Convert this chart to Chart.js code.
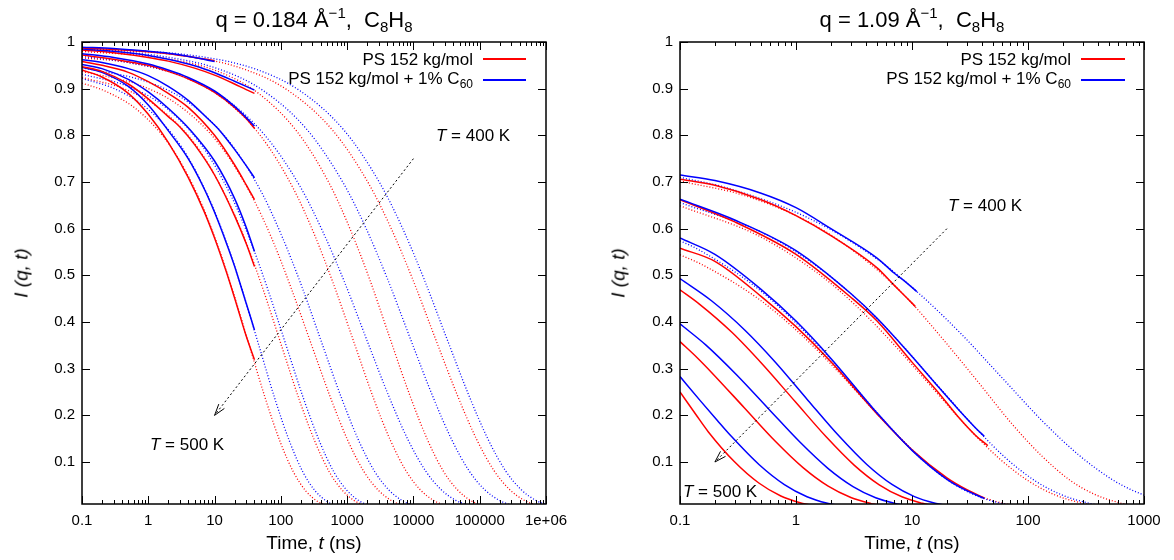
<!DOCTYPE html>
<html><head><meta charset="utf-8">
<script src="https://cdn.jsdelivr.net/npm/chart.js@4.4.1/dist/chart.umd.min.js"></script>
<style>
html,body{margin:0;padding:0;background:#fff;}
body{width:1174px;height:560px;position:relative;overflow:hidden;font-family:"Liberation Sans",Arial,Helvetica,sans-serif;color:#000;}
canvas{position:absolute;top:0;}
#c1{left:0;} #c2{left:587px;}
.t{position:absolute;white-space:nowrap;line-height:1;}
.title{font-size:22px;transform:translateX(-50%);}
.title .sup{font-size:15px;position:relative;top:-9px;}
.title .sub{font-size:15px;position:relative;top:5px;}
.leg{font-size:17px;text-align:right;}
.leg .sub{font-size:12px;position:relative;top:4px;}
.ann{font-size:17px;}
.xt{font-size:19px;transform:translateX(-50%);}
.yt{font-size:19px;font-style:italic;transform:translate(-50%,-50%) rotate(-90deg);}
.ls{position:absolute;height:2px;}
</style></head><body>
<canvas id="c1" width="587" height="560"></canvas>
<canvas id="c2" width="587" height="560"></canvas>

<div class="t title" style="left:314px;top:9px;">q = 0.184 Å<span class="sup">−1</span>,&nbsp; C<span class="sub">8</span>H<span class="sub">8</span></div>
<div class="t title" style="left:912px;top:9px;">q = 1.09 Å<span class="sup">−1</span>,&nbsp; C<span class="sub">8</span>H<span class="sub">8</span></div>

<div class="t leg" style="right:701px;top:51px;">PS 152 kg/mol</div>
<div class="t leg" style="right:701px;top:70px;">PS 152 kg/mol + 1% C<span class="sub">60</span></div>
<div class="ls" style="left:483px;width:43px;top:58px;background-color:rgb(255,0,0);"></div>
<div class="ls" style="left:483px;width:43px;top:79px;background-color:rgb(0,0,255);"></div>

<div class="t leg" style="right:103px;top:51px;">PS 152 kg/mol</div>
<div class="t leg" style="right:103px;top:70px;">PS 152 kg/mol + 1% C<span class="sub">60</span></div>
<div class="ls" style="left:1081px;width:44px;top:58px;background-color:rgb(255,0,0);"></div>
<div class="ls" style="left:1081px;width:44px;top:79px;background-color:rgb(0,0,255);"></div>

<div class="t ann" style="left:436px;top:127px;"><i>T</i> = 400 K</div>
<div class="t ann" style="left:150px;top:436px;"><i>T</i> = 500 K</div>
<div class="t ann" style="left:948px;top:197px;"><i>T</i> = 400 K</div>
<div class="t ann" style="left:683px;top:483px;"><i>T</i> = 500 K</div>

<div class="t xt" style="left:314px;top:533px;">Time, <i>t</i> (ns)</div>
<div class="t xt" style="left:912px;top:533px;">Time, <i>t</i> (ns)</div>
<div class="t yt" style="left:21px;top:273px;">I (q, t)</div>
<div class="t yt" style="left:618px;top:273px;">I (q, t)</div>

<script>
// ---------- tick values / labels ----------
const xTicksL = [0.1, 1, 10, 100, 1000, 10000, 100000, 1000000];
const xLabelsL = ['0.1', '1', '10', '100', '1000', '10000', '100000', '1e+06'];
const xTicksR = [0.1, 1, 10, 100, 1000];
const xLabelsR = ['0.1', '1', '10', '100', '1000'];
const yTicks = [0.1, 0.2, 0.3, 0.4, 0.5, 0.6, 0.7, 0.8, 0.9, 1];
const yLabels = ['0.1', '0.2', '0.3', '0.4', '0.5', '0.6', '0.7', '0.8', '0.9', '1'];

// ---------- left panel, q = 0.184: simulation data [t (ns), I] ----------
const lPS400 = [[0.1,0.987],[0.3,0.984],[1,0.979],[2,0.975],[5,0.967],[10,0.96]];
const lC60_400 = [[0.1,0.989],[0.3,0.986],[1,0.98],[2,0.976],[5,0.967],[10,0.958]];
const lPS420 = [[0.1,0.983],[0.3,0.977],[1,0.967],[2,0.959],[5,0.944],[10,0.929],[20,0.91],[30,0.898],[40,0.89]];
const lC60_420 = [[0.1,0.985],[0.3,0.98],[1,0.971],[2,0.963],[5,0.949],[10,0.934],[20,0.916],[30,0.905],[40,0.897]];
const lPS440 = [[0.1,0.972],[0.3,0.963],[1,0.95],[2,0.937],[4,0.921],[10,0.892],[20,0.86],[30,0.836],[40,0.815]];
const lC60_440 = [[0.1,0.975],[0.3,0.967],[1,0.953],[2,0.94],[4,0.924],[10,0.895],[20,0.862],[30,0.838],[40,0.82]];
const lPS460 = [[0.1,0.958],[0.2,0.95],[0.5,0.935],[1,0.915],[2,0.89],[4,0.86],[10,0.8],[20,0.737],[30,0.694],[40,0.662]];
const lC60_460 = [[0.1,0.962],[0.2,0.956],[0.5,0.943],[1,0.928],[2,0.905],[4,0.875],[8,0.835],[12,0.81],[20,0.77],[30,0.735],[40,0.709]];
const lPS480 = [[0.1,0.947],[0.2,0.937],[0.5,0.91],[1,0.878],[2,0.84],[3,0.818],[5,0.78],[10,0.715],[20,0.628],[30,0.568],[40,0.519]];
const lC60_480 = [[0.1,0.952],[0.2,0.943],[0.5,0.92],[1,0.893],[2,0.858],[4.4,0.81],[10,0.745],[20,0.665],[30,0.603],[40,0.551]];
const lPS500 = [[0.1,0.94],[0.2,0.925],[0.5,0.89],[1,0.845],[2,0.785],[4,0.71],[7,0.636],[10,0.58],[15,0.508],[20,0.452],[30,0.37],[40,0.319]];
const lC60_500 = [[0.1,0.946],[0.2,0.935],[0.5,0.905],[1,0.865],[2,0.81],[4,0.75],[7,0.685],[10,0.635],[15,0.57],[20,0.52],[30,0.44],[40,0.383]];

// ---------- left panel fits (dotted) ----------
const lPS400fit = [[0.1,0.986],[3.61,0.970],[27.7,0.942],[129,0.896],[602,0.811],[2086,0.698],[4600,0.601],[9718,0.492],[21500,0.364],[45430,0.245],[89500,0.149],[164700,0.0813],[284900,0.0404],[467800,0.0181],[638550,0.0100],[768000,0.0067]];
const lC60_400fit = [[0.1,0.987],[5.38,0.970],[41.3,0.942],[192,0.896],[896,0.811],[3104,0.698],[6848,0.601],[14460,0.492],[32000,0.364],[67600,0.245],[133200,0.149],[245100,0.0813],[424000,0.0404],[696300,0.0181],[950400,0.0100],[1142000,0.0067]];
const lPS420fit = [[0.1,0.980],[1.8,0.965],[11.25,0.937],[45,0.891],[180,0.806],[551,0.694],[1125,0.597],[2205,0.490],[4500,0.362],[8820,0.243],[16245,0.148],[28125,0.0809],[46080,0.0404],[72000,0.0180],[95220,0.0099],[112500,0.0066]];
const lC60_420fit = [[0.1,0.984],[1.51,0.970],[11.6,0.942],[54,0.896],[252,0.811],[873,0.698],[1926,0.601],[4068,0.492],[9000,0.364],[19020,0.245],[37470,0.149],[68940,0.0813],[119250,0.0404],[195840,0.0181],[267300,0.0100],[321300,0.0067]];
const lPS440fit = [[0.1,0.966],[0.5,0.956],[3.13,0.927],[12.5,0.882],[50,0.798],[153,0.687],[313,0.591],[613,0.484],[1250,0.359],[2450,0.240],[4510,0.146],[7810,0.080],[12800,0.0399],[20000,0.0179],[26450,0.0098],[31250,0.0066]];
const lC60_440fit = [[0.1,0.969],[0.336,0.960],[2.58,0.932],[12,0.887],[56,0.802],[194,0.691],[428,0.594],[904,0.487],[2000,0.360],[4226,0.242],[8326,0.147],[15320,0.0805],[26500,0.040],[43500,0.0179],[59400,0.0099],[71400,0.0066]];
const lPS460fit = [[0.1,0.937],[0.725,0.908],[2.9,0.864],[11.6,0.782],[35.5,0.673],[72.5,0.580],[142,0.474],[290,0.351],[568,0.236],[1047,0.143],[1813,0.0783],[2970,0.0392],[4640,0.0175],[6136,0.0096],[7250,0.0064]];
const lC60_460fit = [[0.1,0.945],[1.05,0.913],[4.2,0.869],[16.8,0.786],[51.5,0.677],[105,0.582],[206,0.477],[420,0.353],[823,0.237],[1516,0.144],[2625,0.0787],[4300,0.0394],[6720,0.0176],[8890,0.0096],[10500,0.0065]];
const lPS480fit = [[0.1,0.924],[0.444,0.899],[1.57,0.855],[5.53,0.774],[15.2,0.666],[29.3,0.574],[53.9,0.470],[103,0.348],[190,0.233],[331,0.142],[545,0.0775],[854,0.0387],[1280,0.0173],[1651,0.0095],[1921,0.0064]];
const lC60_480fit = [[0.1,0.931],[0.517,0.904],[1.82,0.860],[6.44,0.778],[17.8,0.670],[34.1,0.577],[62.8,0.472],[120,0.350],[221,0.235],[386,0.143],[635,0.078],[995,0.039],[1490,0.0174],[1920,0.0096],[2238,0.0064]];
const lPS500fit = [[0.1,0.912],[0.231,0.894],[0.731,0.851],[2.33,0.770],[5.92,0.663],[10.7,0.571],[18.8,0.467],[34,0.346],[59.6,0.232],[99,0.141],[157,0.077],[236,0.0385],[343,0.0172],[433,0.0095],[497,0.0063]];
const lC60_500fit = [[0.1,0.922],[0.319,0.899],[1.01,0.855],[3.21,0.774],[8.18,0.666],[14.8,0.574],[25.9,0.470],[47,0.348],[82.3,0.233],[137,0.142],[217,0.0775],[327,0.0387],[474,0.0173],[598,0.0095],[686,0.0064]];

// ---------- right panel, q = 1.09: simulation data ----------
const rPS400 = [[0.1,0.706],[0.2,0.693],[0.5,0.662],[1,0.628],[2,0.585],[5,0.516],[7,0.479],[9,0.452],[10.7,0.433]];
const rC60_400 = [[0.1,0.715],[0.2,0.703],[0.5,0.676],[1,0.645],[2,0.6],[5,0.537],[7,0.505],[9,0.484],[11,0.465]];
const rPS420 = [[0.1,0.662],[0.3,0.614],[1,0.545],[3,0.452],[5,0.402],[10,0.314],[17,0.248],[25,0.197],[35,0.158],[45,0.135]];
const rC60_420 = [[0.1,0.663],[0.3,0.618],[1,0.553],[3,0.46],[5,0.408],[10,0.326],[17,0.26],[25,0.213],[35,0.174],[42,0.155]];
const rPS440 = [[0.1,0.558],[0.2,0.53],[0.5,0.455],[1,0.39],[2,0.315],[5,0.203],[10,0.126],[20,0.066],[30,0.04],[42,0.023]];
const rC60_440 = [[0.1,0.58],[0.2,0.545],[0.5,0.47],[1,0.402],[2,0.322],[5,0.205],[10,0.125],[20,0.063],[30,0.038],[42,0.022]];
const rPS460 = [[0.1,0.469],[0.146,0.439],[0.28,0.378],[0.516,0.309],[0.987,0.229],[1.82,0.154],[3.17,0.0934],[5.22,0.0511],[8.18,0.0254],[12.3,0.0114],[13,0.0100],[15.8,0.0063]];
const rC60_460 = [[0.1,0.493],[0.188,0.445],[0.361,0.383],[0.664,0.314],[1.27,0.232],[2.34,0.156],[4.08,0.0946],[6.72,0.0518],[10.5,0.0257],[15.8,0.0116],[17,0.0100],[20.4,0.0064]];
const rPS480 = [[0.1,0.358],[0.1414,0.323],[0.187,0.292],[0.358,0.2163],[0.66,0.145],[1.15,0.088],[1.894,0.0483],[2.97,0.024],[4.45,0.0108],[4.6,0.0100],[5.74,0.0059]];
const rC60_480 = [[0.1,0.396],[0.1666,0.351],[0.307,0.287],[0.5865,0.2126],[1.08,0.1427],[1.884,0.0865],[3.1,0.0474],[4.86,0.0235],[7.29,0.0106],[7.5,0.0100],[9.4,0.0058]];
const rPS500 = [[0.1,0.25],[0.137,0.2018],[0.175,0.165],[0.295,0.1005],[0.478,0.055],[0.74,0.0272],[1.1,0.0123],[1.2,0.0100],[1.42,0.0068]];
const rC60_500 = [[0.1,0.283],[0.15,0.231],[0.209,0.1895],[0.277,0.155],[0.482,0.0941],[0.794,0.0516],[1.244,0.0256],[1.865,0.0115],[2.0,0.0100],[2.4,0.0063]];

// ---------- right panel fits (dotted) ----------
const rPS400fit = [[0.1,0.702],[0.37,0.670],[1.48,0.606],[4.53,0.521],[9.25,0.449],[17.8,0.368],[37,0.272],[72.5,0.182],[134,0.111],[231,0.0607],[379,0.0302],[592,0.0136],[684,0.0100],[925,0.0050]];
const rC60_400fit = [[0.1,0.71],[0.249,0.688],[1.3,0.622],[4.93,0.536],[11.5,0.461],[25.7,0.378],[60,0.28],[134,0.187],[277,0.114],[532,0.0623],[756,0.0418],[1000,0.029]];
const rPS420fit = [[0.1,0.649],[0.473,0.585],[1.55,0.504],[3.32,0.434],[6.79,0.355],[14.5,0.263],[29.7,0.176],[56.8,0.107],[102,0.0587],[172,0.0292],[277,0.0131],[318,0.0100],[409,0.0059]];
const rC60_420fit = [[0.1,0.656],[0.538,0.589],[1.77,0.507],[3.78,0.437],[7.72,0.358],[16.5,0.265],[33.8,0.178],[64.7,0.108],[116,0.0591],[196,0.0294],[315,0.0132],[362,0.0100],[465,0.0059]];
const rPS440fit = [[0.1,0.544],[0.152,0.524],[0.466,0.451],[0.95,0.388],[1.86,0.318],[3.8,0.235],[7.45,0.158],[13.7,0.096],[23.75,0.0525],[38.9,0.0261],[60.8,0.0117],[65.8,0.0100],[95,0.0043]];
const rC60_440fit = [[0.1,0.574],[0.14,0.557],[0.429,0.479],[0.875,0.412],[1.715,0.338],[3.5,0.25],[6.86,0.168],[12.6,0.102],[21.9,0.0558],[35.8,0.0277],[56,0.0125],[62.3,0.0100],[87.5,0.0046]];

// ---------- temperature arrows [t, I] start -> end ----------
const arrowL = [[10000, 0.75], [10, 0.2]];
const arrowR = [[20, 0.6], [0.2, 0.1]];

const RED = '#ff0000', BLUE = '#0000ff';
function ds(arr, color, dotted) {
  return {
    data: arr.map(p => ({x: p[0], y: p[1]})),
    borderColor: color,
    backgroundColor: color,
    borderWidth: dotted ? 1.3 : 1.5,
    borderDash: dotted ? [1, 2] : [],
    pointRadius: 0,
    fill: false,
    cubicInterpolationMode: 'monotone'
  };
}

const framePlugin = {
  id: 'frame',
  afterDatasetsDraw(chart, args, opts) {
    const {ctx, chartArea: a, scales: {x, y}} = chart;
    ctx.save();
    ctx.setLineDash([]);
    ctx.strokeStyle = '#000';
    ctx.lineWidth = 1;
    ctx.beginPath();
    for (const v of yTicks) {
      const p = Math.round(y.getPixelForValue(v)) + 0.5;
      ctx.moveTo(a.left, p); ctx.lineTo(a.left + 8, p);
      ctx.moveTo(a.right, p); ctx.lineTo(a.right - 8, p);
    }
    const e0 = Math.round(Math.log10(x.min)), e1 = Math.round(Math.log10(x.max));
    for (let e = e0; e <= e1; e++) {
      for (let k = 1; k < 10; k++) {
        const v = k * Math.pow(10, e);
        if (v < x.min * 0.999 || v > x.max * 1.001) continue;
        const len = k === 1 ? 8 : 4;
        const p = Math.round(x.getPixelForValue(v)) + 0.5;
        ctx.moveTo(p, a.bottom); ctx.lineTo(p, a.bottom - len);
        ctx.moveTo(p, a.top); ctx.lineTo(p, a.top + len);
      }
    }
    ctx.stroke();
    ctx.lineWidth = 1.5;
    ctx.strokeRect(a.left, a.top, a.right - a.left, a.bottom - a.top);
    // arrow
    const arr = opts.arrow;
    const x1 = x.getPixelForValue(arr[0][0]), y1 = y.getPixelForValue(arr[0][1]);
    const x2 = x.getPixelForValue(arr[1][0]), y2 = y.getPixelForValue(arr[1][1]);
    ctx.lineWidth = 1;
    ctx.strokeStyle = '#000';
    ctx.setLineDash([2, 2.5]);
    ctx.beginPath(); ctx.moveTo(x1, y1); ctx.lineTo(x2, y2); ctx.stroke();
    const ang = Math.atan2(y1 - y2, x1 - x2), hl = 12, ha = 0.3;
    ctx.setLineDash([]);
    ctx.beginPath();
    ctx.moveTo(x2 + hl * Math.cos(ang + ha), y2 + hl * Math.sin(ang + ha));
    ctx.lineTo(x2, y2);
    ctx.lineTo(x2 + hl * Math.cos(ang - ha), y2 + hl * Math.sin(ang - ha));
    ctx.stroke();
    ctx.restore();
  }
};

function makeChart(id, datasets, xmin, xmax, xTicks, xLabels, yWidth, padRight, arrow) {
  return new Chart(document.getElementById(id), {
    type: 'line',
    data: {datasets},
    options: {
      responsive: false, animation: false, devicePixelRatio: 1,
      layout: {padding: {top: 42, right: padRight, left: 0, bottom: 0}},
      plugins: {legend: {display: false}, tooltip: {enabled: false}, frame: {arrow}},
      scales: {
        x: {
          type: 'logarithmic', min: xmin, max: xmax,
          afterBuildTicks: s => { s.ticks = xTicks.map(v => ({value: v})); },
          afterFit: s => { s.height = 56; },
          ticks: {
            autoSkip: false, maxRotation: 0, padding: 8, color: '#000',
            font: {family: '"Liberation Sans", Arial, sans-serif', size: 15},
            callback: (v, i) => xLabels[i]
          },
          grid: {display: false, drawTicks: false},
          border: {display: false}
        },
        y: {
          type: 'linear', min: 0.01, max: 1,
          afterBuildTicks: s => { s.ticks = yTicks.map(v => ({value: v})); },
          afterFit: s => { s.width = yWidth; },
          ticks: {
            autoSkip: false, padding: 7, color: '#000',
            font: {family: '"Liberation Sans", Arial, sans-serif', size: 15},
            callback: (v, i) => yLabels[i]
          },
          grid: {display: false, drawTicks: false},
          border: {display: false}
        }
      }
    },
    plugins: [framePlugin]
  });
}

const leftSets = [
  ds(lC60_400, BLUE), ds(lPS400, RED),
  ds(lC60_420, BLUE), ds(lPS420, RED),
  ds(lC60_440, BLUE), ds(lPS440, RED),
  ds(lC60_460, BLUE), ds(lPS460, RED),
  ds(lC60_480, BLUE), ds(lPS480, RED),
  ds(lC60_500, BLUE), ds(lPS500, RED),
  ds(lC60_400fit, BLUE, true), ds(lPS400fit, RED, true),
  ds(lC60_420fit, BLUE, true), ds(lPS420fit, RED, true),
  ds(lC60_440fit, BLUE, true), ds(lPS440fit, RED, true),
  ds(lC60_460fit, BLUE, true), ds(lPS460fit, RED, true),
  ds(lC60_480fit, BLUE, true), ds(lPS480fit, RED, true),
  ds(lC60_500fit, BLUE, true), ds(lPS500fit, RED, true)
];
const rightSets = [
  ds(rC60_400, BLUE), ds(rPS400, RED),
  ds(rC60_420, BLUE), ds(rPS420, RED),
  ds(rC60_440, BLUE), ds(rPS440, RED),
  ds(rC60_460, BLUE), ds(rPS460, RED),
  ds(rC60_480, BLUE), ds(rPS480, RED),
  ds(rC60_500, BLUE), ds(rPS500, RED),
  ds(rC60_400fit, BLUE, true), ds(rPS400fit, RED, true),
  ds(rC60_420fit, BLUE, true), ds(rPS420fit, RED, true),
  ds(rC60_440fit, BLUE, true), ds(rPS440fit, RED, true)
];

makeChart('c1', leftSets, 0.1, 1000000, xTicksL, xLabelsL, 82, 41, arrowL);
makeChart('c2', rightSets, 0.1, 1000, xTicksR, xLabelsR, 93, 30, arrowR);
</script>
</body></html>
